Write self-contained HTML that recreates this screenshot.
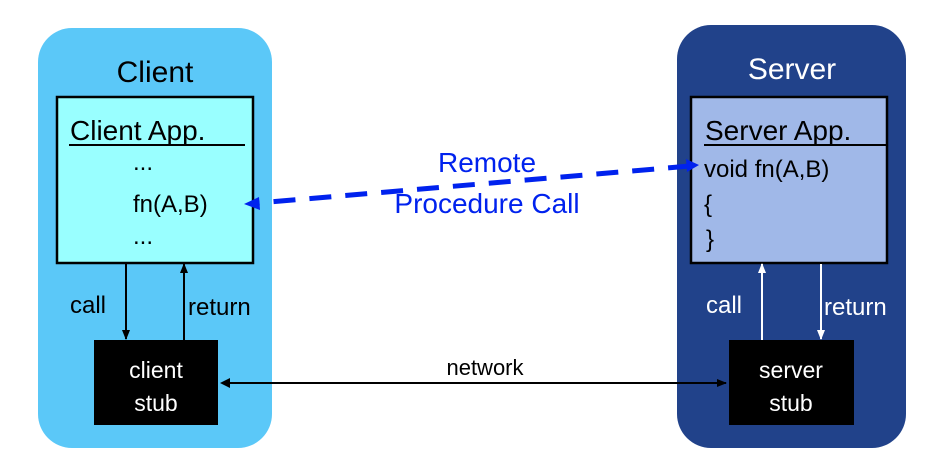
<!DOCTYPE html>
<html><head><meta charset="utf-8"><style>
html,body{margin:0;padding:0;background:#fff;}
svg{display:block;font-family:"Liberation Sans",Arial,sans-serif;}
</style></head><body>
<svg width="936" height="474" viewBox="0 0 936 474" xmlns="http://www.w3.org/2000/svg">
<defs>
<marker id="ab" markerWidth="10" markerHeight="10" refX="9" refY="5" orient="auto" markerUnits="userSpaceOnUse"><path d="M0,1 L10,5 L0,9 z" fill="#000"/></marker>
<marker id="aw" markerWidth="10" markerHeight="10" refX="9" refY="5" orient="auto" markerUnits="userSpaceOnUse"><path d="M0,1 L10,5 L0,9 z" fill="#fff"/></marker>
<marker id="abl" markerWidth="14" markerHeight="14" refX="12" refY="7" orient="auto" markerUnits="userSpaceOnUse"><path d="M0,1 L13,7 L0,13 z" fill="#0022ee"/></marker>
</defs>
<rect x="38" y="28" width="234" height="420" rx="34" fill="#5bc8f8"/>
<rect x="677" y="25" width="229" height="423" rx="34" fill="#21428a"/>
<text x="155" y="82" font-size="30" text-anchor="middle" fill="#000">Client</text>
<text x="792" y="79" font-size="30" text-anchor="middle" fill="#fff">Server</text>
<rect x="57" y="97" width="196" height="166" fill="#99ffff" stroke="#000" stroke-width="2.5"/>
<rect x="691" y="97" width="196" height="166" fill="#a0b8e8" stroke="#000" stroke-width="2.5"/>
<text x="70" y="140" font-size="28" fill="#000">Client App.</text>
<line x1="69" y1="145" x2="245" y2="145" stroke="#000" stroke-width="2"/>
<text x="133" y="170" font-size="24" fill="#000">...</text>
<text x="133" y="212" font-size="24" fill="#000">fn(A,B)</text>
<text x="133" y="244" font-size="24" fill="#000">...</text>
<text x="705" y="140" font-size="28" fill="#000">Server App.</text>
<line x1="704" y1="145" x2="888" y2="145" stroke="#000" stroke-width="2"/>
<text x="704" y="177" font-size="24" fill="#000">void fn(A,B)</text>
<text x="704" y="212" font-size="24" fill="#000">{</text>
<text x="706" y="247" font-size="24" fill="#000">}</text>
<line x1="126" y1="264" x2="126" y2="339" stroke="#000" stroke-width="2" marker-end="url(#ab)"/>
<line x1="184" y1="340" x2="184" y2="264" stroke="#000" stroke-width="2" marker-end="url(#ab)"/>
<line x1="762" y1="340" x2="762" y2="264" stroke="#fff" stroke-width="2" marker-end="url(#aw)"/>
<line x1="821" y1="264" x2="821" y2="339" stroke="#fff" stroke-width="2" marker-end="url(#aw)"/>
<text x="70" y="313" font-size="24" fill="#000">call</text>
<text x="188" y="315" font-size="24" fill="#000">return</text>
<text x="706" y="313" font-size="24" fill="#fff">call</text>
<text x="824" y="315" font-size="24" fill="#fff">return</text>
<rect x="94" y="340" width="124" height="85" fill="#000"/>
<rect x="729" y="340" width="125" height="85" fill="#000"/>
<text x="156" y="378" font-size="23" text-anchor="middle" fill="#fff">client</text>
<text x="156" y="411" font-size="23" text-anchor="middle" fill="#fff">stub</text>
<text x="791" y="378" font-size="23" text-anchor="middle" fill="#fff">server</text>
<text x="791" y="411" font-size="23" text-anchor="middle" fill="#fff">stub</text>
<line x1="222" y1="383" x2="726" y2="383" stroke="#000" stroke-width="2" marker-end="url(#ab)" marker-start="url(#abs)"/>
<path d="M220,383 L230,378 L230,388 z" fill="#000"/>
<text x="485" y="375" font-size="22" text-anchor="middle" fill="#000">network</text>
<line x1="690" y1="166" x2="258" y2="203" stroke="#0022ee" stroke-width="5" stroke-dasharray="22,14"/>
<path d="M244,204 L259,197 L260,210 z" fill="#0022ee"/>
<path d="M699,165 L686,159 L687,172 z" fill="#0022ee"/>
<text x="487" y="172" font-size="28" text-anchor="middle" fill="#0022ee">Remote</text>
<text x="487" y="213" font-size="28" text-anchor="middle" fill="#0022ee">Procedure Call</text>
</svg>
</body></html>
